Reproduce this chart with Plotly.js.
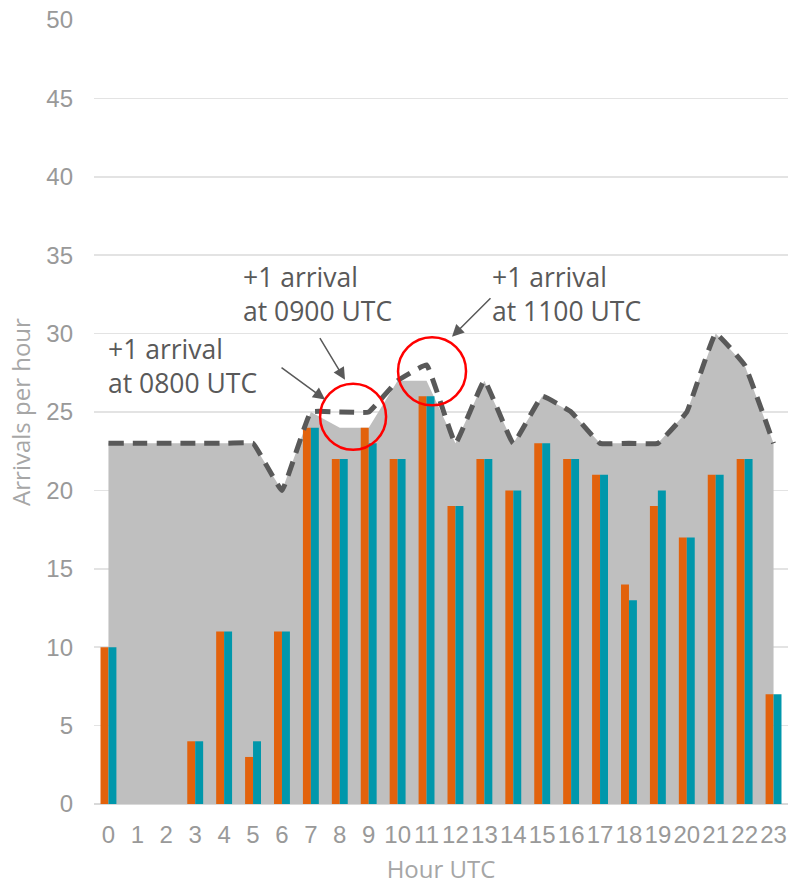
<!DOCTYPE html>
<html>
<head>
<meta charset="utf-8">
<script src="https://cdn.plot.ly/plotly-3.0.1.min.js"></script>
<style>html,body{margin:0;padding:0;background:#fff;}#chart{width:791px;height:886px;}</style>
</head>
<body>
<div id="chart"></div>
<script>
const hours = [0,1,2,3,4,5,6,7,8,9,10,11,12,13,14,15,16,17,18,19,20,21,22,23];
const tickLabels = hours.map(String);
const capacityArea = [23,23,23,23,23,23,20,25,24,24,27,27,23,27,23,26,25,23,23,23,25,30,28,23];
const capacityLine = [23,23,23,23,23,23,20,25,25,25,27,28,23,27,23,26,25,23,23,23,25,30,28,23];
const seriesOrange = [10,0,0,4,11,3,11,24,22,24,22,26,19,22,20,23,22,21,14,19,17,21,22,7];
const seriesTeal = [10,0,0,4,11,4,11,24,22,23,22,26,19,22,20,23,22,21,13,20,17,21,22,7];
const yTicks = [0,5,10,15,20,25,30,35,40,45,50];

const traces = [
  {x: hours, y: capacityArea, type: 'scatter', mode: 'lines', fill: 'tozeroy',
   fillcolor: '#bfbfbf', line: {color: '#bfbfbf', width: 0}, hoverinfo: 'skip', xaxis: 'x', yaxis: 'y'},
  {x: hours, y: seriesOrange, type: 'bar', marker: {color: '#e2620c'}, xaxis: 'x2', yaxis: 'y2'},
  {x: hours, y: seriesTeal, type: 'bar', marker: {color: '#0097ab'}, xaxis: 'x2', yaxis: 'y2'},
  {x: hours, y: capacityLine, type: 'scatter', mode: 'lines',
   line: {color: '#595959', width: 5, dash: '15px,9px', shape: 'spline', smoothing: 0.25},
   xaxis: 'x2', yaxis: 'y2'}
];

const annFont = {family: 'Open Sans, sans-serif', size: 26.5, color: '#595959'};
const tickFont = {family: 'Liberation Sans, Arial, sans-serif', size: 24, color: '#999999'};
const titleFont = {family: 'Open Sans, sans-serif', size: 24, color: '#a6a6a6'};
const layout = {
  width: 791, height: 886,
  margin: {l: 93.5, r: 2.5, t: 20, b: 82},
  paper_bgcolor: '#ffffff', plot_bgcolor: '#ffffff',
  showlegend: false,
  barmode: 'group', bargap: 0.45, bargroupgap: 0,
  xaxis: {
    range: [-0.5, 23.5], tickmode: 'array', tickvals: hours, ticktext: tickLabels,
    showgrid: false, zeroline: false, showline: false, ticks: '', ticklabelstandoff: 14,
    tickfont: tickFont,
    title: {text: 'Hour UTC', font: titleFont, standoff: 14}
  },
  yaxis: {
    range: [0, 50], tickmode: 'array', tickvals: yTicks,
    showgrid: true, gridcolor: '#e3e3e3', gridwidth: 1.5,
    zeroline: true, zerolinecolor: '#d9d9d9', zerolinewidth: 2,
    showline: false, ticks: '', ticklabelstandoff: 20,
    tickfont: tickFont,
    title: {text: 'Arrivals per hour', font: titleFont, standoff: 8}
  },
  xaxis2: {range: [-0.5, 23.5], overlaying: 'x', visible: false},
  yaxis2: {range: [0, 50], overlaying: 'y', visible: false},
  shapes: [
    {type: 'circle', xref: 'x', yref: 'y', xsizemode: 'pixel', ysizemode: 'pixel',
     xanchor: 8.46, yanchor: 24.7, x0: -33, x1: 33, y0: -33, y1: 33,
     line: {color: '#ff0000', width: 2.5}},
    {type: 'circle', xref: 'x', yref: 'y', xsizemode: 'pixel', ysizemode: 'pixel',
     xanchor: 11.19, yanchor: 27.6, x0: -34, x1: 34, y0: -34, y1: 34,
     line: {color: '#ff0000', width: 2.5}}
  ],
  annotations: [
    {x: -0.07, y: 27.95, xref: 'x', yref: 'y', xanchor: 'left', yanchor: 'middle', align: 'left',
     text: '+1 arrival<br>at 0800 UTC', showarrow: false, font: annFont},
    {x: 4.58, y: 32.55, xref: 'x', yref: 'y', xanchor: 'left', yanchor: 'middle', align: 'left',
     text: '+1 arrival<br>at 0900 UTC', showarrow: false, font: annFont},
    {x: 13.18, y: 32.55, xref: 'x', yref: 'y', xanchor: 'left', yanchor: 'middle', align: 'left',
     text: '+1 arrival<br>at 1100 UTC', showarrow: false, font: annFont},
    {x: 7.49, y: 25.8, xref: 'x', yref: 'y', text: '', showarrow: true, ax: -45, ay: -33,
     arrowhead: 2, arrowsize: 1.6, arrowwidth: 1.5, arrowcolor: '#595959', standoff: 0},
    {x: 8.18, y: 27.06, xref: 'x', yref: 'y', text: '', showarrow: true, ax: -26, ay: -43,
     arrowhead: 2, arrowsize: 1.6, arrowwidth: 1.5, arrowcolor: '#595959', standoff: 0},
    {x: 11.88, y: 29.8, xref: 'x', yref: 'y', text: '', showarrow: true, ax: 40, ay: -40,
     arrowhead: 2, arrowsize: 1.6, arrowwidth: 1.5, arrowcolor: '#595959', standoff: 0}
  ]
};

Plotly.newPlot('chart', traces, layout, {displayModeBar: false, staticPlot: true});
</script>
</body>
</html>
